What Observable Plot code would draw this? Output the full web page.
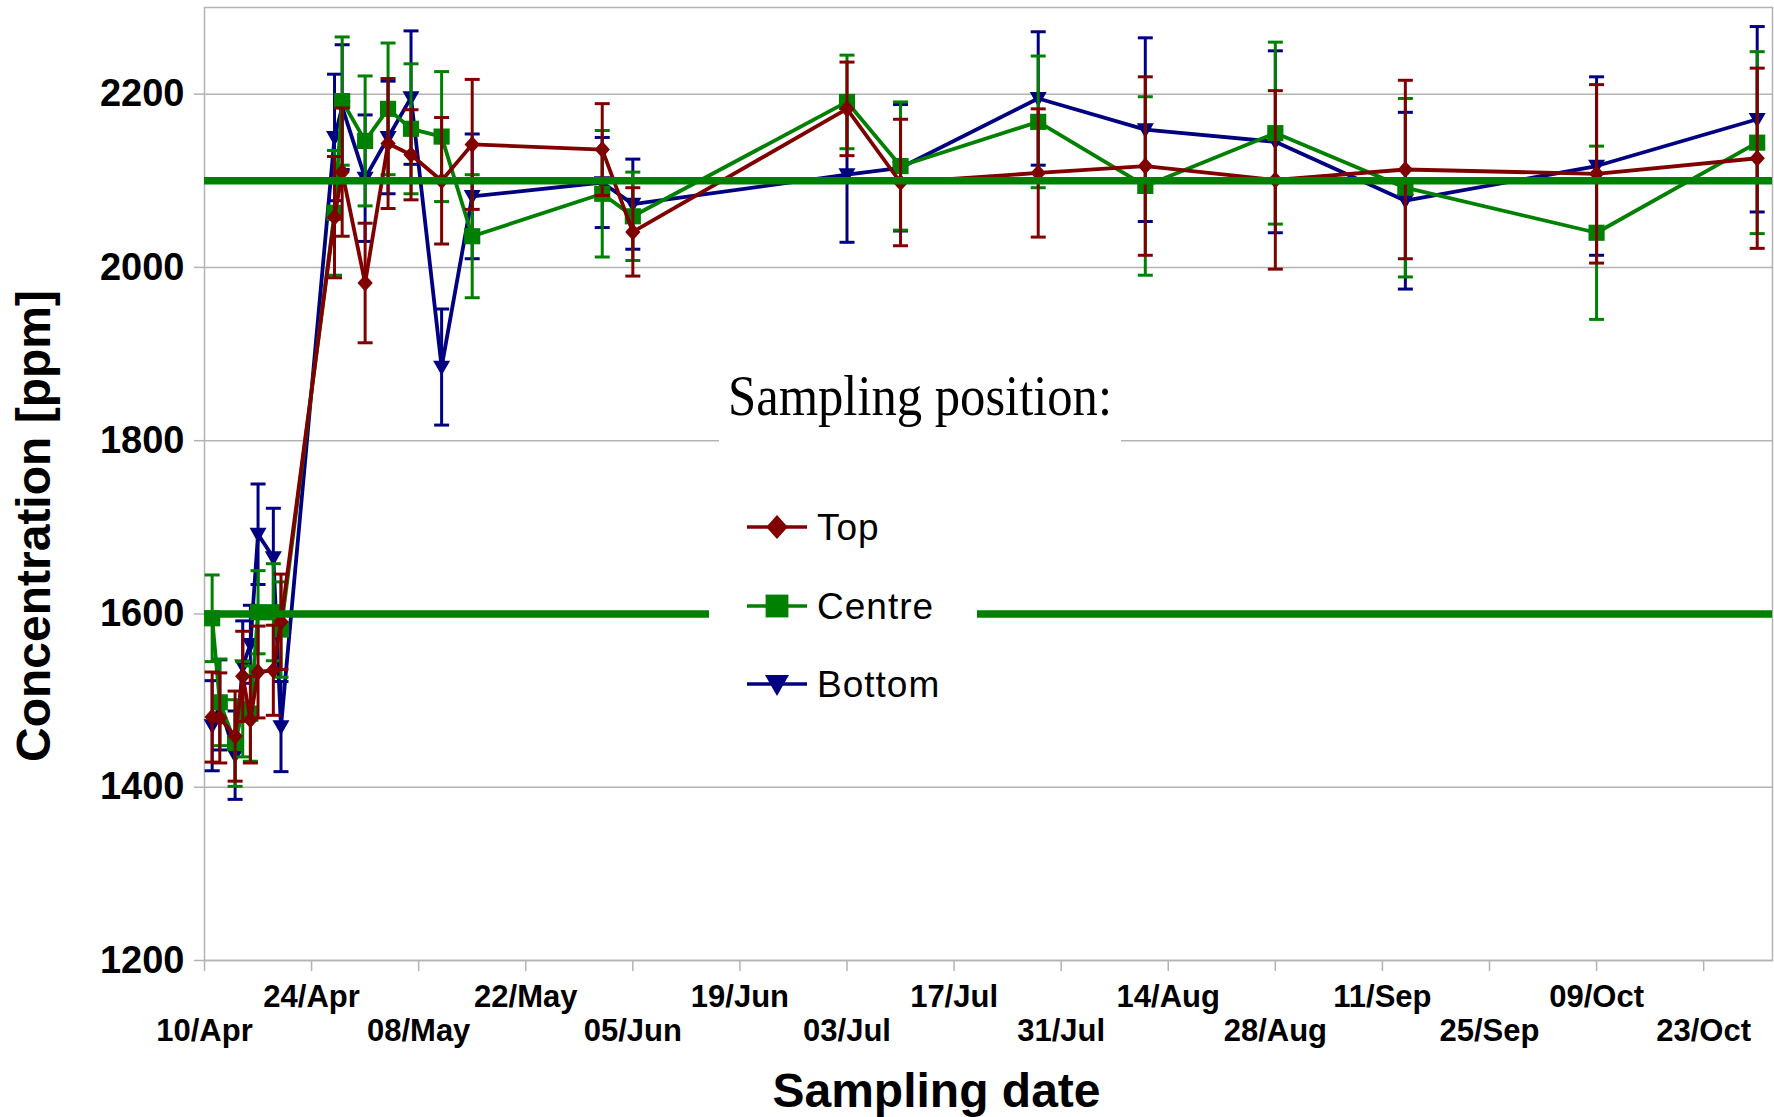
<!DOCTYPE html>
<html>
<head>
<meta charset="utf-8">
<script src="https://cdn.jsdelivr.net/npm/d3@7"></script>
<script src="https://cdn.jsdelivr.net/npm/@observablehq/plot@0.6"></script>
<style>
  body { margin: 0; background: #fff; }
  #wrap { position: relative; width: 1774px; height: 1117px; overflow: hidden; }
  #wrap > svg { position: absolute; left: 0; top: 0; }
  #legend { pointer-events: none; }
</style>
</head>
<body>
<div id="wrap"></div>
<script>
// Sampling dates (day/month, 2013)
const sampleDates = [
  "2013-04-11", "2013-04-12", "2013-04-14", "2013-04-15", "2013-04-16",
  "2013-04-17", "2013-04-19", "2013-04-20", "2013-04-27", "2013-04-28",
  "2013-05-01", "2013-05-04", "2013-05-07", "2013-05-11", "2013-05-15",
  "2013-06-01", "2013-06-05", "2013-07-03", "2013-07-10", "2013-07-28",
  "2013-08-11", "2013-08-28", "2013-09-14", "2013-10-09", "2013-10-30"
];

// Mean concentration [ppm] and error (±) for each sampling position
const topValues = [1481, 1480, 1459, 1528, 1478, 1533, 1535, 1591, 2058, 2110, 1982, 2143, 2130, 2100, 2142, 2136, 2041, 2183, 2098, 2109, 2117, 2101, 2113, 2108, 2126];
const topErrors = [52, 52, 52, 52, 50, 53, 52, 55, 70, 74, 69, 75, 52, 73, 75, 53, 51, 54, 73, 74, 103, 103, 103, 103, 104];

const centreValues = [1595, 1498, 1451, 1490, 1485, 1602, 1602, 1582, 2063, 2192, 2146, 2183, 2160, 2151, 2036, 2085, 2059, 2191, 2117, 2168, 2094, 2155, 2092, 2040, 2144];
const centreErrors = [50, 50, 50, 55, 55, 48, 56, 55, 72, 74, 75, 76, 75, 75, 71, 73, 51, 54, 74, 76, 103, 105, 103, 100, 105];

const bottomValues = [1471, 1495, 1437, 1540, 1565, 1692, 1665, 1470, 2150, 2185, 2103, 2150, 2196, 1885, 2082, 2098, 2073, 2107, 2115, 2195, 2159, 2145, 2077, 2117, 2171];
const bottomErrors = [52, 52, 51, 52, 45, 58, 57, 52, 73, 72, 73, 65, 77, 67, 72, 52, 52, 78, 73, 77, 106, 105, 102, 103, 107];

// Reference levels [ppm]
const limits = [1600, 2100];

// Axes
const yTicks = [1200, 1400, 1600, 1800, 2000, 2200];
const yDomain = [1200, 2300];
const xDomain = ["2013-04-10", "2013-11-01"];
const tickDates = [
  "2013-04-10", "2013-04-24", "2013-05-08", "2013-05-22", "2013-06-05",
  "2013-06-19", "2013-07-03", "2013-07-17", "2013-07-31", "2013-08-14",
  "2013-08-28", "2013-09-11", "2013-09-25", "2013-10-09", "2013-10-23"
];
const tickLabels = [
  "10/Apr", "24/Apr", "08/May", "22/May", "05/Jun",
  "19/Jun", "03/Jul", "17/Jul", "31/Jul", "14/Aug",
  "28/Aug", "11/Sep", "25/Sep", "09/Oct", "23/Oct"
];

// Marker shapes
const diamond = {draw(ctx, size) {
  const r = Math.sqrt(size / Math.PI);
  ctx.moveTo(0, -r); ctx.lineTo(0.9 * r, 0); ctx.lineTo(0, r); ctx.lineTo(-0.9 * r, 0); ctx.closePath();
}};
const square = {draw(ctx, size) {
  const s = 0.95 * Math.sqrt(size / Math.PI);
  ctx.rect(-s, -s, 2 * s, 2 * s);
}};
const triangleDown = {draw(ctx, size) {
  const r = Math.sqrt(size / Math.PI);
  ctx.moveTo(-r, -0.75 * r); ctx.lineTo(r, -0.75 * r); ctx.lineTo(0, r); ctx.closePath();
}};
const cap = {draw(ctx, size) {
  const r = Math.sqrt(size / Math.PI);
  ctx.moveTo(-r, 0); ctx.lineTo(r, 0);
}};

const series = [
  {name: "Top", color: "#800000", symbol: diamond, values: topValues, errors: topErrors},
  {name: "Centre", color: "#008000", symbol: square, values: centreValues, errors: centreErrors},
  {name: "Bottom", color: "#000080", symbol: triangleDown, values: bottomValues, errors: bottomErrors}
];

const rowsFor = s => sampleDates.map((d, i) => ({
  date: new Date(d), value: s.values[i], err: s.errors[i]
}));

// Each series: error bars, connecting line, markers (Bottom drawn first, Top last)
const seriesMarks = [...series].reverse().flatMap(s => {
  const rows = rowsFor(s);
  return [
    Plot.ruleX(rows, {x: "date", y1: d => d.value - d.err, y2: d => d.value + d.err, stroke: s.color, strokeWidth: 3}),
    Plot.dot(rows, {x: "date", y: d => d.value - d.err, symbol: cap, r: 7.5, stroke: s.color, strokeWidth: 3, fill: "none"}),
    Plot.dot(rows, {x: "date", y: d => d.value + d.err, symbol: cap, r: 7.5, stroke: s.color, strokeWidth: 3, fill: "none"}),
    Plot.line(rows, {x: "date", y: "value", stroke: s.color, strokeWidth: 3.8}),
    Plot.dot(rows, {x: "date", y: "value", symbol: s.symbol, r: 8.5, fill: s.color, stroke: "none"})
  ];
});

const labelOf = d => tickLabels[tickDates.indexOf(d3.utcFormat("%Y-%m-%d")(d))];
const tickObjs = tickDates.map(d => new Date(d));
const upperTicks = tickObjs.filter((d, i) => i % 2 === 1);
const lowerTicks = tickObjs.filter((d, i) => i % 2 === 0);

const axisText = {fontSize: 31, fontWeight: "bold", fill: "black", stroke: "#b3b3b3", strokeWidth: 1.5, tickSize: 11, tickFormat: labelOf, label: null};

const chart = Plot.plot({
  width: 1774,
  height: 1117,
  marginTop: 7,
  marginRight: 2,
  marginBottom: 157,
  marginLeft: 204,
  style: {fontFamily: "'Liberation Sans', Arial, sans-serif", background: "white", color: "black", overflow: "visible"},
  x: {type: "utc", domain: xDomain.map(d => new Date(d)), axis: null},
  y: {domain: yDomain, axis: null},
  marks: [
    Plot.gridY(yTicks, {stroke: "#b3b3b3", strokeOpacity: 1, strokeWidth: 1.5}),
    Plot.frame({stroke: "#b3b3b3", strokeWidth: 1.5}),
    ...seriesMarks,
    Plot.ruleY(limits, {stroke: "#008000", strokeWidth: 7.5}),
    Plot.axisY(yTicks, {tickSize: 10, tickPadding: 10, fontSize: 38, fontWeight: "bold", fill: "black", stroke: "#b3b3b3", strokeWidth: 1.5, tickFormat: d => String(d), label: null}),
    Plot.axisX(upperTicks, {...axisText, tickPadding: 13}),
    Plot.axisX(lowerTicks, {...axisText, tickPadding: 47}),
    Plot.text(["Concentration [ppm]"], {text: d => d, frameAnchor: "left", dx: -170, dy: 42, rotate: -90, fontSize: 48, fontWeight: "bold", fill: "black", textAnchor: "middle", lineAnchor: "middle"}),
    Plot.text(["Sampling date"], {text: d => d, frameAnchor: "bottom", dx: -52, dy: 131, fontSize: 48, fontWeight: "bold", fill: "black", textAnchor: "middle", lineAnchor: "middle"})
  ]
});

const wrap = document.getElementById("wrap");
wrap.appendChild(chart);

// Legend panel drawn over the plot area
const legend = d3.select(wrap).append("svg")
  .attr("id", "legend")
  .attr("width", 1774).attr("height", 1117);

legend.append("rect").attr("x", 719).attr("y", 362).attr("width", 402).attr("height", 90).attr("fill", "white");
legend.append("text")
  .attr("x", 920).attr("y", 415)
  .attr("text-anchor", "middle")
  .attr("font-family", "'Liberation Serif', 'DejaVu Serif', serif")
  .attr("font-size", 56)
  .attr("textLength", 384)
  .attr("lengthAdjust", "spacingAndGlyphs")
  .text("Sampling position:");

legend.append("rect").attr("x", 709).attr("y", 480).attr("width", 268).attr("height", 240).attr("fill", "white");

const entryY = [527, 606, 684];
series.forEach((s, i) => {
  const g = legend.append("g").attr("transform", `translate(0,${entryY[i]})`);
  g.append("line").attr("x1", 747).attr("x2", 807).attr("y1", 0).attr("y2", 0)
    .attr("stroke", s.color).attr("stroke-width", 3.5);
  g.append("path")
    .attr("transform", "translate(777,0)")
    .attr("d", d3.symbol().type(s.symbol).size(Math.PI * 12 * 12)())
    .attr("fill", s.color);
  g.append("text").attr("x", 817).attr("y", 13)
    .attr("font-family", "'Liberation Sans', Arial, sans-serif")
    .attr("font-size", 37)
    .attr("letter-spacing", 1)
    .attr("fill", "black")
    .text(s.name);
});
</script>
</body>
</html>
